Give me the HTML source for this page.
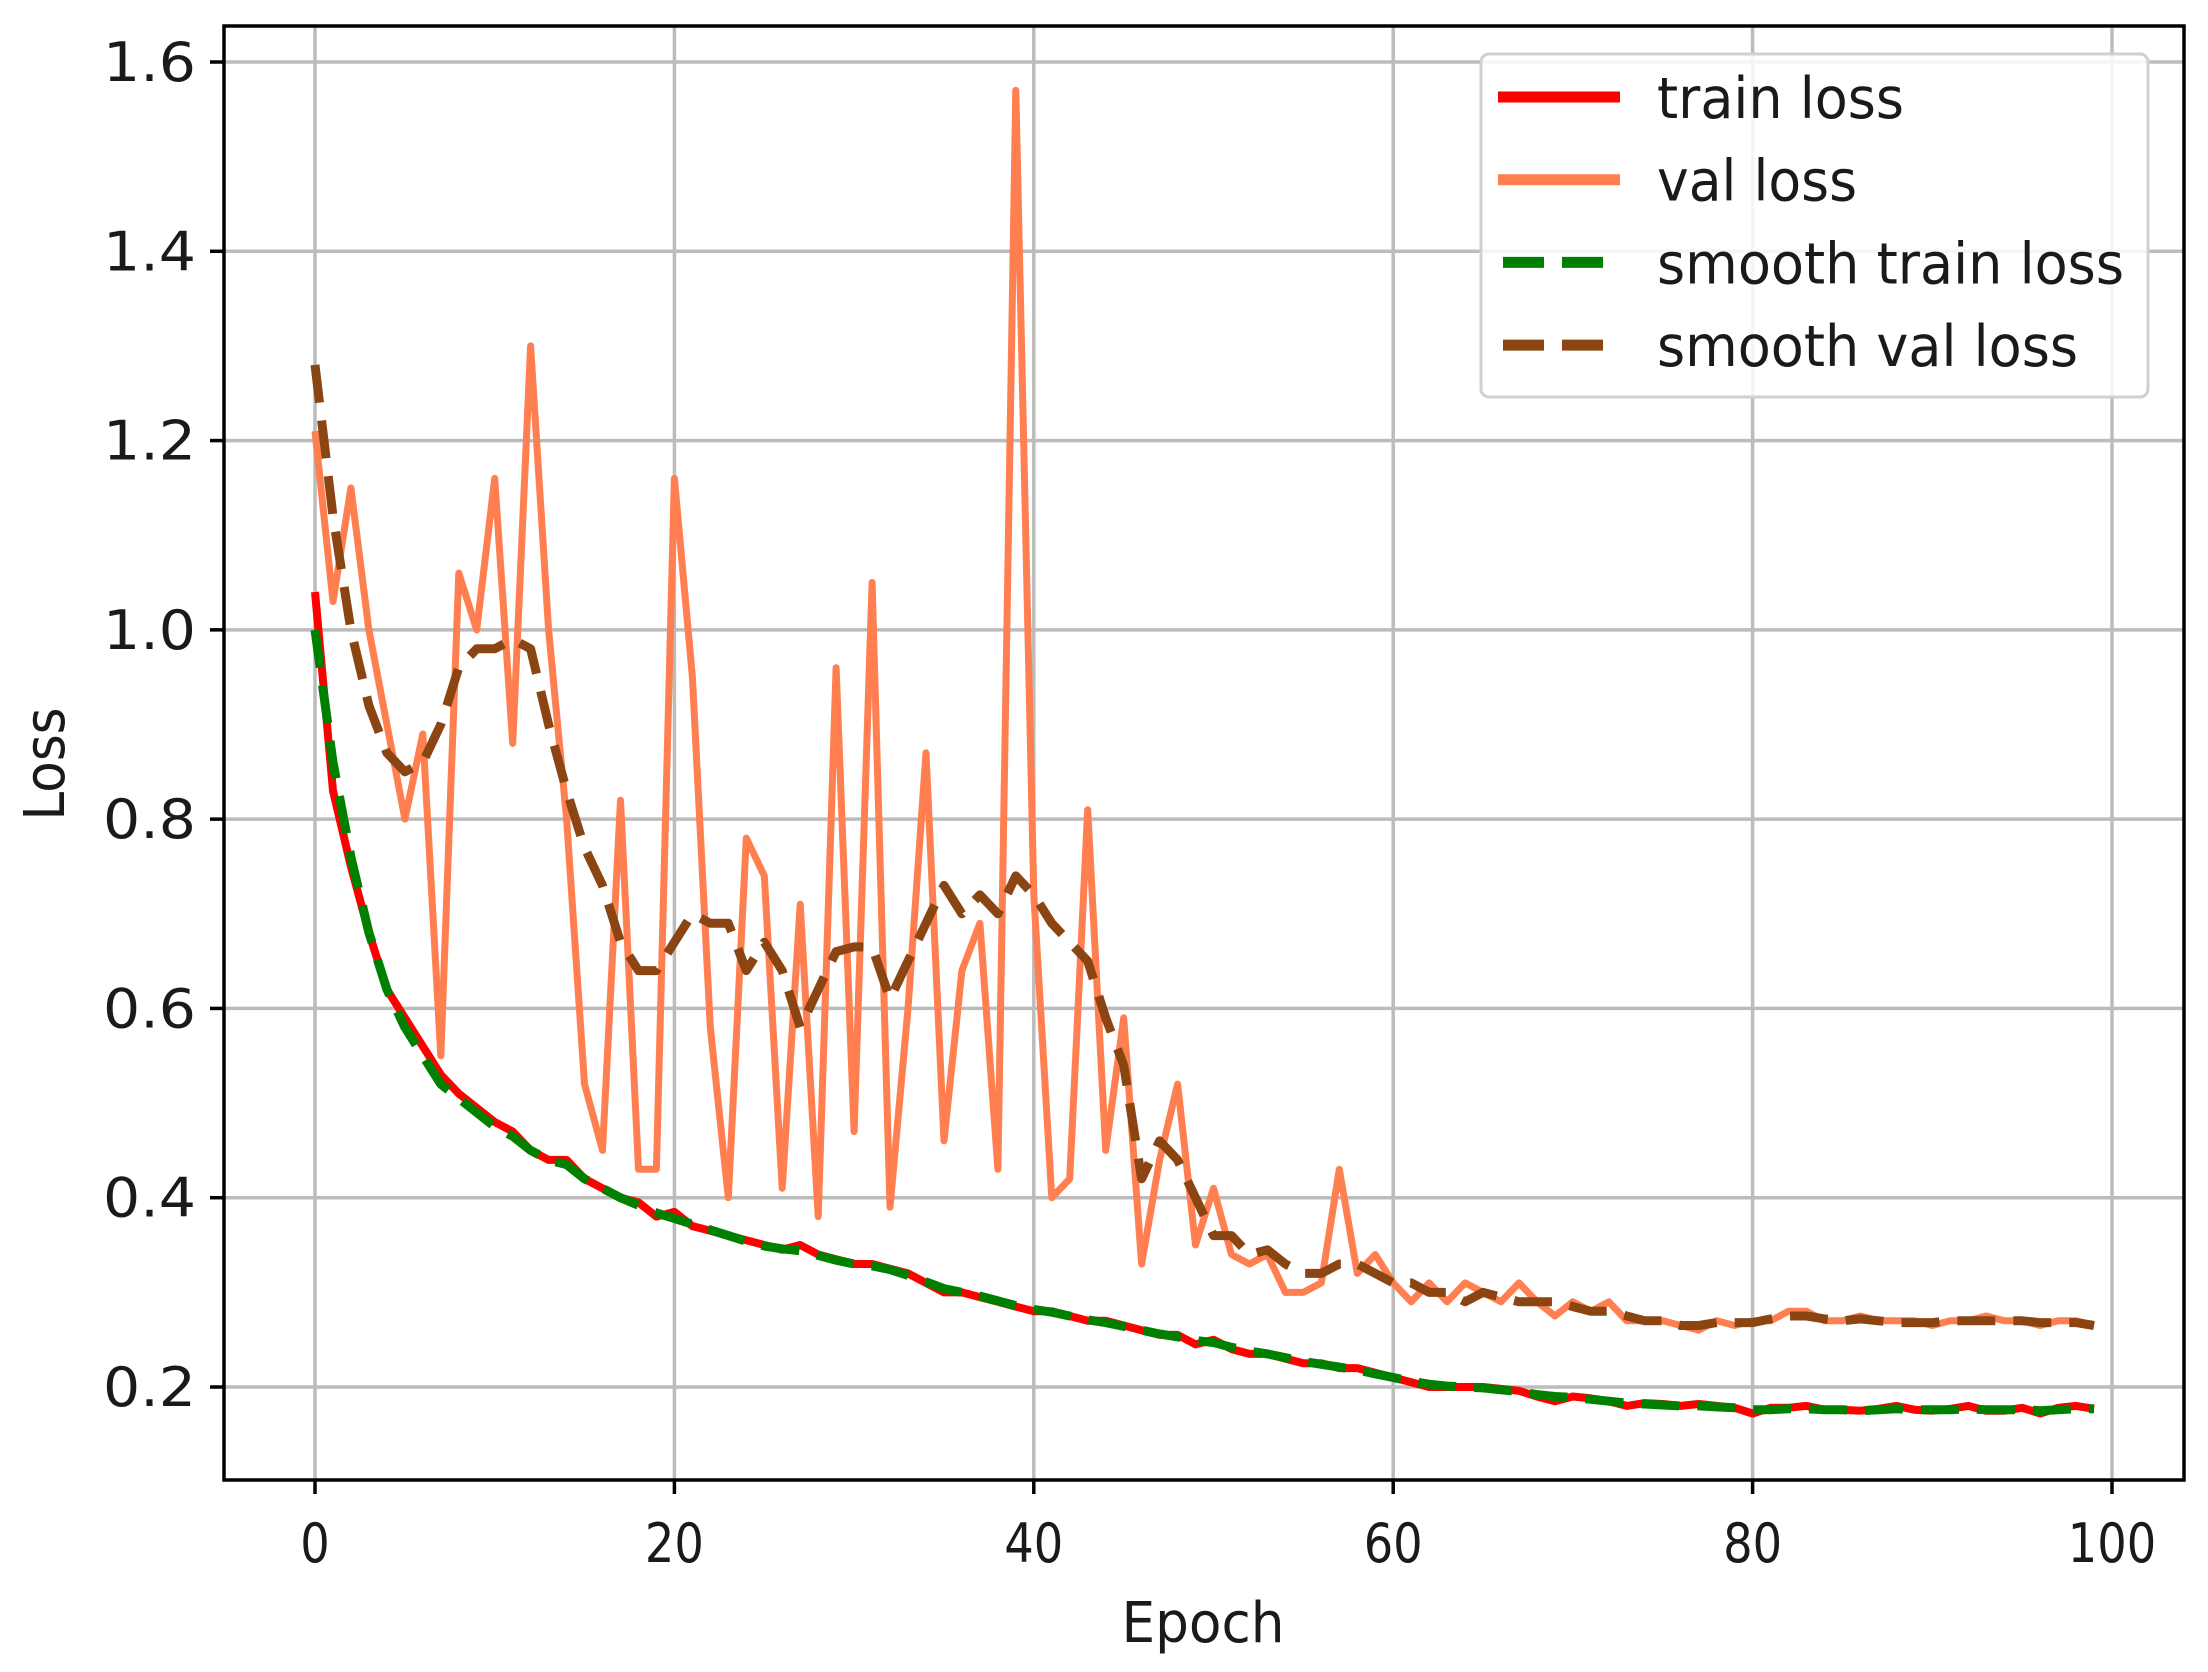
<!DOCTYPE html>
<html><head><meta charset="utf-8"><style>
html,body{margin:0;padding:0;background:#fff}
svg text{font-family:"DejaVu Sans","Liberation Sans",sans-serif;fill:#1a1a1a}
</style></head><body>
<svg id="chart" width="2208" height="1667" viewBox="0 0 2208 1667" xmlns="http://www.w3.org/2000/svg">
<rect width="2208" height="1667" fill="#fff"/>
<g id="grid"></g>
<g id="series"></g>
<rect x="224" y="26" width="1960" height="1454" fill="none" stroke="#000" stroke-width="3.5"/>
<g id="ticks"></g>
<text x="1203" y="1642" font-size="56" text-anchor="middle" textLength="163" lengthAdjust="spacingAndGlyphs">Epoch</text>
<text x="64" y="764" font-size="56" text-anchor="middle" textLength="113" lengthAdjust="spacingAndGlyphs" transform="rotate(-90 64 764)">Loss</text>
<g id="legend">
<rect x="1481" y="54" width="667" height="343" rx="8" fill="#fff" fill-opacity="0.85" stroke="#d0d0d0" stroke-width="3"/>
</g>
</svg>
<script>
const epochs = Array.from({length:100},(_,i)=>i);
const trainLoss = [1.04,0.83,0.75,0.68,0.62,0.59,0.56,0.53,0.51,0.495,0.48,0.47,0.45,0.44,0.44,0.42,0.41,0.40,0.395,0.38,0.385,0.37,0.365,0.36,0.355,0.35,0.345,0.35,0.34,0.335,0.33,0.33,0.325,0.32,0.31,0.30,0.30,0.295,0.29,0.285,0.28,0.28,0.275,0.27,0.27,0.265,0.26,0.255,0.255,0.245,0.25,0.24,0.235,0.235,0.23,0.225,0.225,0.22,0.22,0.215,0.21,0.205,0.20,0.20,0.20,0.20,0.198,0.196,0.19,0.185,0.19,0.188,0.185,0.18,0.183,0.182,0.18,0.182,0.18,0.178,0.172,0.178,0.178,0.18,0.176,0.176,0.175,0.177,0.18,0.176,0.175,0.177,0.18,0.175,0.175,0.178,0.172,0.178,0.18,0.177];
const smoothTrainLoss = [1.0,0.86,0.76,0.68,0.62,0.58,0.55,0.52,0.505,0.49,0.475,0.465,0.45,0.44,0.435,0.42,0.41,0.40,0.392,0.384,0.378,0.372,0.366,0.36,0.354,0.349,0.346,0.344,0.339,0.334,0.33,0.328,0.324,0.318,0.311,0.304,0.3,0.296,0.291,0.286,0.282,0.279,0.275,0.271,0.268,0.264,0.26,0.256,0.253,0.249,0.247,0.242,0.238,0.235,0.231,0.227,0.224,0.221,0.218,0.214,0.21,0.206,0.203,0.201,0.2,0.199,0.197,0.195,0.192,0.19,0.189,0.187,0.185,0.183,0.182,0.181,0.18,0.18,0.179,0.178,0.176,0.176,0.177,0.177,0.176,0.176,0.175,0.176,0.177,0.176,0.176,0.176,0.177,0.176,0.176,0.176,0.175,0.176,0.177,0.177];
const valLoss = [1.21,1.03,1.15,1.0,0.9,0.8,0.89,0.55,1.06,1.0,1.16,0.88,1.30,1.0,0.8,0.52,0.45,0.82,0.43,0.43,1.16,0.95,0.58,0.40,0.78,0.74,0.41,0.71,0.38,0.96,0.47,1.05,0.39,0.60,0.87,0.46,0.64,0.69,0.43,1.57,0.72,0.40,0.42,0.81,0.45,0.59,0.33,0.44,0.52,0.35,0.41,0.34,0.33,0.34,0.30,0.30,0.31,0.43,0.32,0.34,0.31,0.29,0.31,0.29,0.31,0.30,0.29,0.31,0.29,0.275,0.29,0.28,0.29,0.27,0.27,0.27,0.265,0.26,0.27,0.265,0.27,0.27,0.28,0.28,0.27,0.27,0.275,0.27,0.27,0.27,0.265,0.27,0.27,0.275,0.27,0.27,0.265,0.27,0.27,0.265];
const smoothValLoss = [1.28,1.12,1.0,0.92,0.87,0.85,0.86,0.9,0.96,0.98,0.98,0.99,0.98,0.90,0.83,0.77,0.73,0.67,0.64,0.64,0.67,0.70,0.69,0.69,0.64,0.67,0.64,0.58,0.62,0.66,0.665,0.665,0.61,0.65,0.69,0.73,0.70,0.72,0.70,0.74,0.72,0.69,0.67,0.65,0.59,0.54,0.42,0.46,0.44,0.40,0.36,0.36,0.34,0.345,0.33,0.32,0.32,0.33,0.33,0.32,0.31,0.31,0.30,0.30,0.29,0.30,0.295,0.29,0.29,0.29,0.285,0.28,0.28,0.275,0.27,0.27,0.265,0.265,0.268,0.268,0.268,0.272,0.275,0.275,0.272,0.27,0.272,0.27,0.268,0.268,0.268,0.27,0.27,0.27,0.27,0.27,0.268,0.268,0.268,0.265];
const xTicks = [0,20,40,60,80,100];
const yTicks = [0.2,0.4,0.6,0.8,1.0,1.2,1.4,1.6];
const yTickLabels = ["0.2","0.4","0.6","0.8","1.0","1.2","1.4","1.6"];
const legendLabels = ["train loss","val loss","smooth train loss","smooth val loss"];

const NS="http://www.w3.org/2000/svg";
const X0=315, X100=2112, Y02=1387, Y16=62;
const xs = v => X0 + (X100-X0)*v/100;
const ys = v => Y02 + (Y16-Y02)*(v-0.2)/1.4;
function mk(tag, attrs, parent){const e=document.createElementNS(NS,tag);for(const k in attrs)e.setAttribute(k,attrs[k]);parent.appendChild(e);return e;}
const grid=document.getElementById('grid'), ticks=document.getElementById('ticks'), series=document.getElementById('series'), legend=document.getElementById('legend');
xTicks.forEach(t=>{
  const g=mk('line',{x1:xs(t),x2:xs(t),y1:26,y2:1480,stroke:'#bcbcbc','stroke-width':3.5},grid);
  
  
  const tk=mk('line',{x1:xs(t),x2:xs(t),y1:1480,y2:1494,stroke:'#000','stroke-width':3.5},ticks);
  
  
  const s=String(t);
  const lb=mk('text',{x:xs(t),y:1562,'font-size':54,'text-anchor':'middle',textLength:s.length*29.5,lengthAdjust:'spacingAndGlyphs'},ticks);
  lb.textContent=s;
  
  
});
yTicks.forEach((t,i)=>{
  const g=mk('line',{x1:224,x2:2184,y1:ys(t),y2:ys(t),stroke:'#bcbcbc','stroke-width':3.5},grid);
  
  
  const tk=mk('line',{x1:210,x2:224,y1:ys(t),y2:ys(t),stroke:'#000','stroke-width':3.5},ticks);
  
  
  const lb=mk('text',{x:196,y:ys(t)+19,'font-size':54,'text-anchor':'end',textLength:93,lengthAdjust:'spacingAndGlyphs'},ticks);
  lb.textContent=yTickLabels[i];
  
  
});
const legendWidths=[247,200,467,421];
const styles=[
  {data:trainLoss,color:'#ff0000',w:8,dash:null,name:'train-loss-line'},
  {data:valLoss,color:'#ff7f50',w:7,dash:null,name:'val-loss-line'},
  {data:smoothTrainLoss,color:'#008000',w:9,dash:'38 18',name:'smooth-train-loss-line'},
  {data:smoothValLoss,color:'#8b4513',w:9,dash:'38 18',name:'smooth-val-loss-line'}
];
styles.forEach((s,i)=>{
  const d=s.data.map((v,j)=>(j?'L':'M')+xs(epochs[j]).toFixed(1)+','+ys(v).toFixed(1)).join('');
  const p=mk('path',{d:d,fill:'none',stroke:s.color,'stroke-width':s.w,'stroke-linejoin':'round'},series);
  if(s.dash)p.setAttribute('stroke-dasharray',s.dash);
  
  
  const ly=97+i*82.7;
  const ll=mk('line',{x1:s.dash?1503:1498,x2:s.dash?1604:1620,y1:ly,y2:ly,stroke:s.color,'stroke-width':11},legend);
  if(s.dash)ll.setAttribute('stroke-dasharray','41 18');
  
  
  const lt=mk('text',{x:1657,y:ly+21,'font-size':57,textLength:legendWidths[i],lengthAdjust:'spacingAndGlyphs'},legend);
  lt.textContent=legendLabels[i];
  
  
});
</script>
</body></html>
